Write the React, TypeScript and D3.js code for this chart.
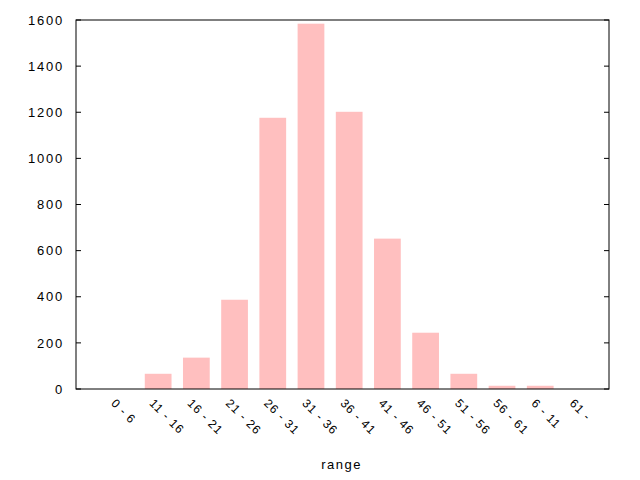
import React from "react";
import * as d3 from "d3";

const categories = ["0 - 6", "11 - 16", "16 - 21", "21 - 26", "26 - 31", "31 - 36", "36 - 41", "41 - 46", "46 - 51", "51 - 56", "56 - 61", "6 - 11", "61 -"];
const values = [0, 66, 136, 387, 1176, 1584, 1202, 652, 244, 66, 14, 14, 0];
const yTicks = [0, 200, 400, 600, 800, 1000, 1200, 1400, 1600];
const xLabel = "range";

const W = 640, H = 480;
const m = { left: 76, right: 609, top: 20, bottom: 389 };

export default function App() {
  const x = d3.scaleLinear().domain([-1.15, 12.8]).range([m.left, m.right]);
  const y = d3.scaleLinear().domain([0, 1600]).range([m.bottom, m.top]);
  const step = x(1) - x(0);
  const bw = step * 0.7;
  const font = "'Liberation Sans', Arial, sans-serif";
  return (
    <svg width={W} height={H} style={{ position: "absolute", left: 0, top: 0, background: "#fff" }} fontFamily={font}>
      <rect x={0} y={0} width={W} height={H} fill="#fff" />
      {values.map((v, i) => (
        <rect key={i} x={x(i) - bw / 2} y={y(v)} width={bw} height={y(0) - y(v)} fill="#ffbfbf" />
      ))}
      {yTicks.map((t) => (
        <g key={t}>
          <line x1={m.left} x2={m.left + 5} y1={y(t)} y2={y(t)} stroke="#000" />
          <line x1={m.right - 5} x2={m.right} y1={y(t)} y2={y(t)} stroke="#000" />
          <text x={m.left - 12} y={y(t)} dy="0.36em" textAnchor="end" fontSize={13} letterSpacing={1.8}>{t}</text>
        </g>
      ))}
      {categories.map((c, i) => (
        <text key={c} transform={`translate(${x(i) - 9.5},${m.bottom + 15}) rotate(45)`} fontSize={12} letterSpacing={1}>{c}</text>
      ))}
      <rect x={m.left} y={m.top} width={m.right - m.left} height={m.bottom - m.top} fill="none" stroke="#000" strokeWidth={1} />
      <text x={(m.left + m.right) / 2 - 1} y={469} textAnchor="middle" fontSize={13} letterSpacing={1.5}>{xLabel}</text>
    </svg>
  );
}
